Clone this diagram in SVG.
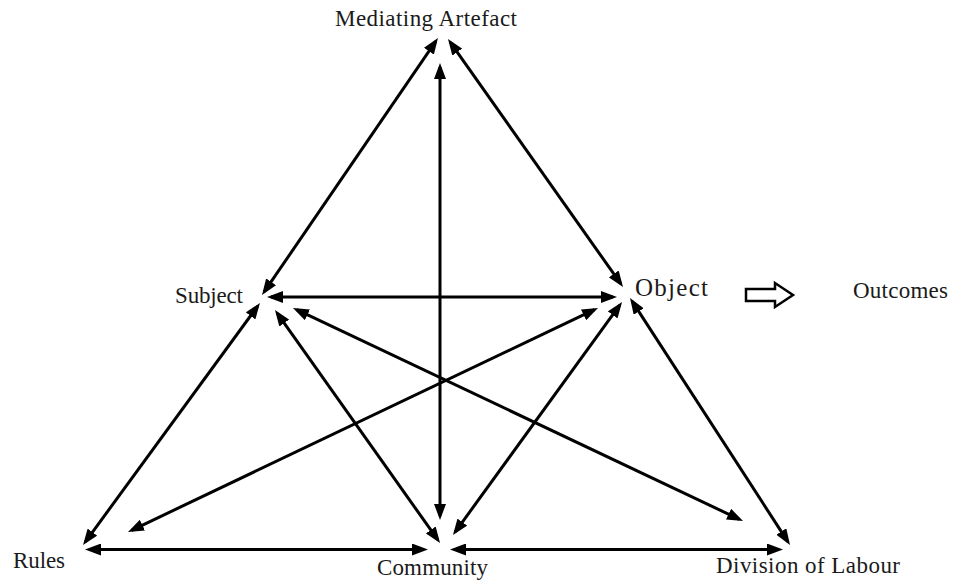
<svg xmlns="http://www.w3.org/2000/svg" width="953" height="580" viewBox="0 0 953 580">
<style>
  .lbl { font-family: "Liberation Serif", "Times New Roman", serif; font-size: 23px; fill: #1a1a1a; }
  .conn line { stroke: #000; stroke-width: 3; marker-start: url(#ah); marker-end: url(#ah); }
</style>
<defs>
  <marker id="ah" viewBox="0 0 16 12" markerWidth="16" markerHeight="12" refX="12" refY="6" orient="auto-start-reverse" markerUnits="userSpaceOnUse">
    <path d="M0,0 L16,6 L0,12 z" fill="#000"/>
  </marker>
</defs>
<rect width="953" height="580" fill="#fff"/>
<g id="connectors" class="conn">
  <line x1="435.7" y1="41.3" x2="264.3" y2="291.7"/>
  <line x1="450.3" y1="42.3" x2="620.7" y2="283.7"/>
  <line x1="440" y1="67" x2="440" y2="516"/>
  <line x1="271" y1="297" x2="613" y2="297"/>
  <line x1="257.6" y1="306.2" x2="85.4" y2="541.8"/>
  <line x1="277.3" y1="313.3" x2="437.7" y2="539.7"/>
  <line x1="296.6" y1="309.7" x2="739.4" y2="519.3"/>
  <line x1="594.4" y1="309.7" x2="131.6" y2="530.3"/>
  <line x1="619.7" y1="305.2" x2="455.3" y2="531.8"/>
  <line x1="632.2" y1="301.4" x2="787.8" y2="541.6"/>
  <line x1="89" y1="549.5" x2="424" y2="549.5"/>
  <line x1="454" y1="549.5" x2="779" y2="549.5"/>
</g>
<g id="mediating-artefact"><text class="lbl" x="335" y="26" textLength="182">Mediating Artefact</text></g>
<g id="subject"><text class="lbl" x="175" y="303" textLength="68">Subject</text></g>
<g id="object"><text class="lbl" x="635" y="296" textLength="73" style="font-size:25px">Object</text></g>
<g id="outcomes-arrow"><polygon points="746,289 775,289 775,283 793,295 775,307 775,301 746,301" fill="#fff" stroke="#000" stroke-width="2.5" stroke-linejoin="miter"/></g>
<g id="outcomes"><text class="lbl" x="853" y="298" textLength="95">Outcomes</text></g>
<g id="rules"><text class="lbl" x="13" y="568" textLength="52">Rules</text></g>
<g id="community"><text class="lbl" x="377" y="575" textLength="111">Community</text></g>
<g id="division-of-labour"><text class="lbl" x="716" y="573" textLength="184">Division of Labour</text></g>
</svg>
